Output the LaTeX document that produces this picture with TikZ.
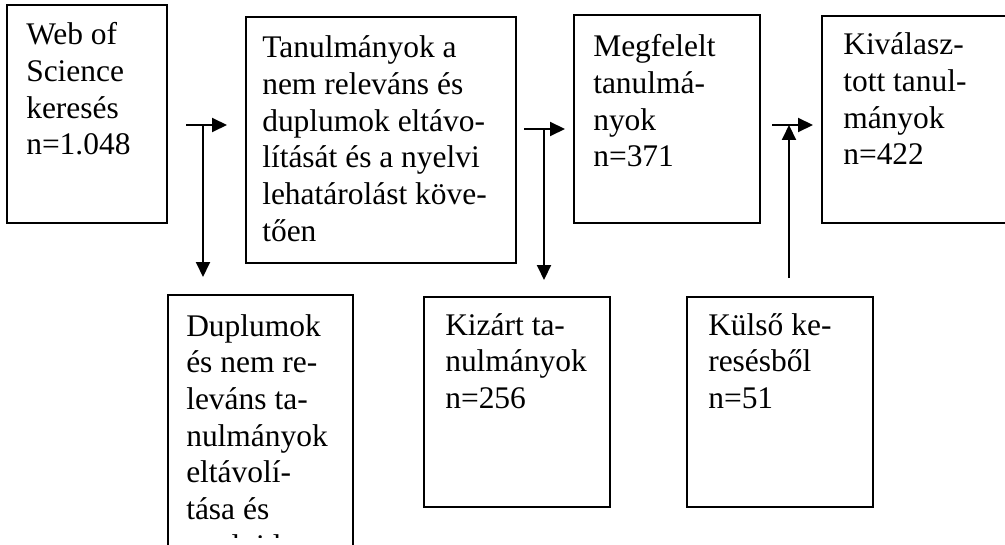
\documentclass[tikz,border=0pt]{standalone}
\usepackage{fontspec}
\setmainfont{Liberation Serif}
\usetikzlibrary{arrows.meta,calc}
\tikzset{
  box/.style={draw, line width=0.98pt, inner sep=0pt, outer sep=0pt, anchor=north west},
  txt/.style={inner sep=0pt, anchor=base west, font=\fontsize{23.6pt}{27.5pt}\selectfont},
  conn/.style={line width=1.5pt, -{Triangle[length=11.25pt,width=10.5pt]}},
}
\begin{document}
\begin{tikzpicture}[x=0.75pt,y=-0.75pt]
\useasboundingbox (0,0) rectangle (1005,545);
\clip (0,0) rectangle (1005,545);
% boxes
\node[box, minimum width=120pt, minimum height=163.5pt] (b1) at (7,5) {};
\node[box, minimum width=202.5pt, minimum height=184.5pt] (b2) at (246,17) {};
\node[box, minimum width=139.5pt, minimum height=156pt] (b3) at (574,15) {};
\node[box, minimum width=190pt, minimum height=155.25pt] (b4) at (822,16) {};
\node[box, minimum width=138.75pt, minimum height=210pt] (b5) at (168,295) {};
\node[box, minimum width=139.5pt, minimum height=157.5pt] (b6) at (424,297) {};
\node[box, minimum width=139.5pt, minimum height=157.5pt] (b7) at (687,297) {};
% texts
\node[txt] (t1) at (26,45) {\parbox[t]{225pt}{Web of\\Science\\keresés\\n=1.048}};
\node[txt] (t2) at (262,58) {\parbox[t]{225pt}{Tanulmányok a\\nem releváns és\\duplumok eltávo-\\lítását és a nyelvi\\lehatárolást köve-\\tően}};
\node[txt] (t3) at (593,57) {\parbox[t]{225pt}{Megfelelt\\tanulmá-\\nyok\\n=371}};
\node[txt] (t4) at (843,55) {\parbox[t]{225pt}{Kiválasz-\\tott tanul-\\mányok\\n=422}};
\begin{scope}
\clip (168,295) rectangle (353,537);
\node[txt] (t5) at (186,336) {\parbox[t]{225pt}{Duplumok\\és nem re-\\leváns ta-\\nulmányok\\eltávolí-\\tása és\\nyelvi le-}};
\end{scope}
\node[txt] (t6) at (445,335) {\parbox[t]{225pt}{Kizárt ta-\\nulmányok\\n=256}};
\node[txt] (t7) at (708,335) {\parbox[t]{225pt}{Külső ke-\\resésből\\n=51}};
% connector end points
\coordinate (a1s) at (186,125);
\coordinate (a1e) at (227,125);
\coordinate (a1d) at (203,125);
\coordinate (a1b) at (203,277);
\coordinate (a2s) at (524,129);
\coordinate (a2e) at (565,129);
\coordinate (a2d) at (544,129);
\coordinate (a2b) at (544,280);
\coordinate (a3s) at (772,125);
\coordinate (a3e) at (813,125);
\coordinate (a3d) at (789,125);
\coordinate (a3b) at (789,278);
% connectors
\draw[conn] (a1s) -- (a1e);
\draw[conn] (a1d) -- (a1b);
\draw[conn] (a2s) -- (a2e);
\draw[conn] (a2d) -- (a2b);
\draw[conn] (a3s) -- (a3e);
\draw[conn] (a3b) -- (a3d);
\end{tikzpicture}
\end{document}
